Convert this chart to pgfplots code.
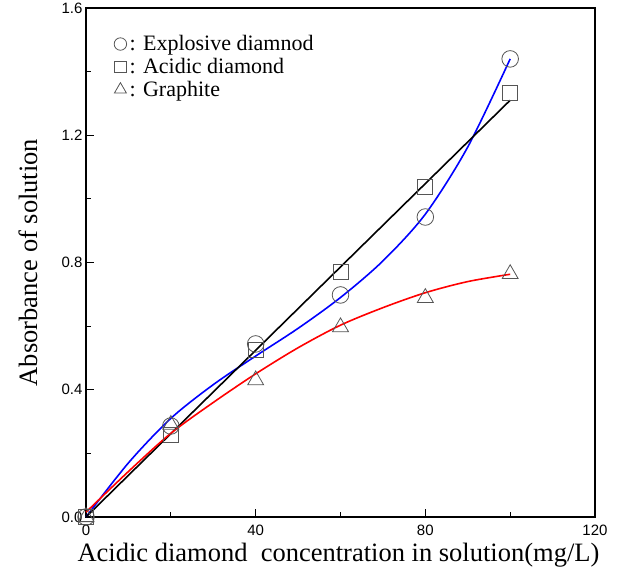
\documentclass[border=0pt]{standalone}
\usepackage{fontspec}
\setmainfont{Liberation Serif}
\newfontfamily\arial{Liberation Sans}
\usepackage{pgfplots}
\pgfplotsset{compat=1.18}
\definecolor{markgray}{RGB}{85,85,85}
\begin{document}
\begin{tikzpicture}
\useasboundingbox (-86pt,-58pt) rectangle (531pt,517pt);
\begin{axis}[
    at={(0pt,0pt)}, anchor=south west,
    scale only axis, width=509pt, height=509pt,
    xmin=0, xmax=120, ymin=0, ymax=1.6,
    xtick={0,40,80,120}, minor xtick={20,60,100},
    ytick={0,0.4,0.8,1.2,1.6}, minor ytick={0.2,0.6,1.0,1.4},
    yticklabel style={/pgf/number format/fixed, /pgf/number format/fixed zerofill, /pgf/number format/precision=1},
    /pgf/number format/assume math mode=true,
    tick label style={font=\arial\fontsize{15}{15}\selectfont},
    xticklabel style={yshift=-4pt},
    xtick pos=left, ytick pos=left,
    tick align=inside,
    major tick length=8pt, minor tick length=5pt,
    every tick/.style={black, line width=1.2pt},
    axis line style={line width=2.5pt},
    xlabel={Acidic diamond\ \ concentration in solution(mg/L)},
    ylabel={Absorbance of solution},
    xlabel style={at={(rel axis cs:0.496,-0.0747)}, anchor=center},
    ylabel style={at={(rel axis cs:-0.114,0.5)}, anchor=center},
    label style={font=\fontsize{26.5}{26.5}\selectfont},
    clip=false,
    legend style={draw=none, fill=none, at={(0.055,0.95)}, anchor=north west,
        font=\fontsize{22}{22}\selectfont, inner sep=0pt, row sep=2pt,
        column sep=1pt, cells={anchor=west}},
    legend image code/.code={\draw[#1, every mark/.append style={scale=0.75}] plot coordinates {(0.22cm,0cm)};},
]
% fitted curves
\addplot[blue, line width=1.6pt, smooth, forget plot] coordinates {
    (0,0.0) (10,0.17) (20,0.31) (30,0.416) (40,0.506) (50,0.593)
    (60,0.69) (70,0.805) (80,0.952) (90,1.163) (100,1.44)
};
\addplot[black, line width=1.6pt, forget plot] coordinates {
    (0,0.0) (100,1.31)
};
\addplot[red, line width=1.6pt, smooth, forget plot] coordinates {
    (0,0.015) (10,0.143) (20,0.263) (30,0.36) (40,0.45) (50,0.532)
    (60,0.603) (70,0.658) (80,0.705) (90,0.74) (100,0.763)
};
% measured points
\addplot[only marks, mark=o, mark size=8.3pt, markgray, mark options={line width=0.8pt}] coordinates {
    (0,0) (20,0.286) (40,0.544) (60,0.698) (80,0.943) (100,1.44)
};
\addlegendentry{: Explosive diamnod}
\addplot[only marks, mark=square, mark size=7.5pt, markgray, mark options={line width=0.8pt}] coordinates {
    (0,0) (20,0.258) (40,0.525) (60,0.77) (80,1.038) (100,1.333)
};
\addlegendentry{: Acidic diamond}
\addplot[only marks, mark=triangle, mark size=9.2pt, markgray, mark options={line width=0.8pt}] coordinates {
    (0,0) (20,0.29) (40,0.43) (60,0.597) (80,0.689) (100,0.764)
};
\addlegendentry{: Graphite}
\end{axis}
\end{tikzpicture}
\end{document}
